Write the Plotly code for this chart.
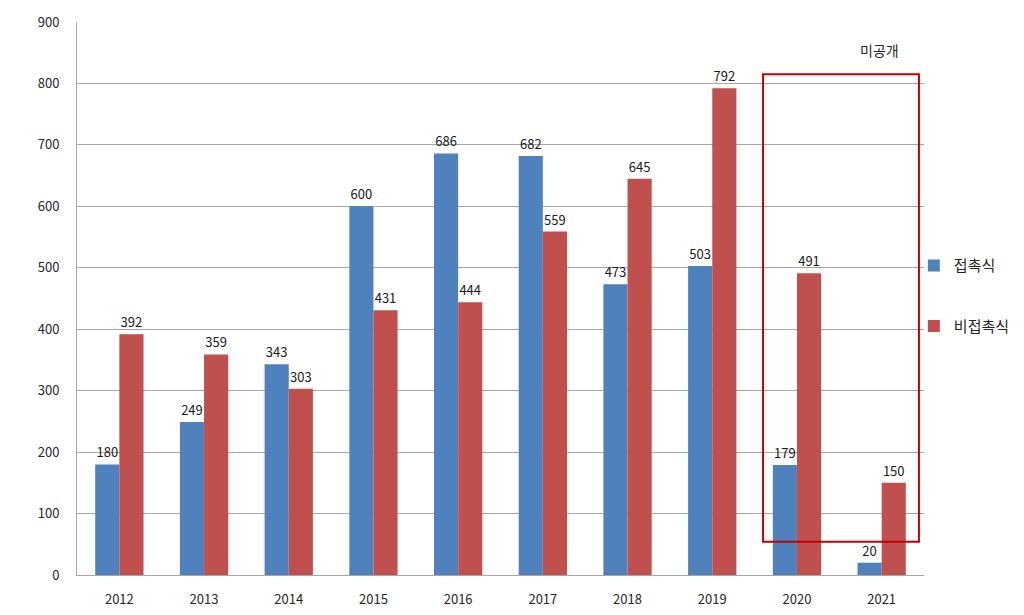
import plotly.graph_objects as go

years = ["2012", "2013", "2014", "2015", "2016", "2017", "2018", "2019", "2020", "2021"]
contact = [180, 249, 343, 600, 686, 682, 473, 503, 179, 20]
noncontact = [392, 359, 303, 431, 444, 559, 645, 792, 491, 150]
series_names = ["접촉식", "비접촉식"]
y_ticks = [0, 100, 200, 300, 400, 500, 600, 700, 800, 900]
box_label = "미공개"

FONT = "Noto Sans CJK KR, Malgun Gothic, sans-serif"
BLUE = "#4F81BD"
RED = "#C0504D"

fig = go.Figure()
for name, vals, col, grp in [(series_names[0], contact, BLUE, "a"), (series_names[1], noncontact, RED, "b")]:
    fig.add_trace(go.Bar(
        x=years, y=vals, name=name, marker=dict(color=col, line=dict(width=0)),
        text=[str(v) for v in vals], textposition="outside", cliponaxis=False,
        textfont=dict(size=13, color="#1a1a1a", family=FONT),
        constraintext="none", legendgroup=grp,
    ))

# highlight box around 2020-2021 (category positions)
fig.add_shape(type="rect", xref="x", yref="y", x0=7.6, x1=9.44, y0=54, y1=815,
              line=dict(color="#C00000", width=2), fillcolor="rgba(0,0,0,0)")
fig.add_annotation(xref="x", yref="y", x=8.98, y=855, text=box_label, showarrow=False,
                   font=dict(size=14, color="#262626", family=FONT))

fig.update_layout(
    width=1024, height=615,
    margin=dict(l=77, r=100, t=22, b=40, autoexpand=False),
    paper_bgcolor="white", plot_bgcolor="white",
    barmode="group", bargap=0.43, bargroupgap=0,
    font=dict(family=FONT, size=13, color="#404040"),
    legend=dict(x=0.988, y=0.505, xanchor="left", yanchor="middle",
                traceorder="grouped", tracegroupgap=38,
                bgcolor="rgba(0,0,0,0)",
                font=dict(size=15, color="#262626", family=FONT),
                itemwidth=30),
    showlegend=True,
)
fig.update_xaxes(type="category", showline=True, linecolor="#A6A6A6", linewidth=1,
                 ticks="", tickfont=dict(size=13, color="#262626"), showgrid=False,
                 ticklabelstandoff=12)
fig.update_yaxes(range=[0, 900], tickvals=y_ticks, showgrid=True, gridcolor="#A6A6A6",
                 gridwidth=1, showline=True, linecolor="#A6A6A6", linewidth=1,
                 zeroline=False, ticks="", ticklabelstandoff=14,
                 tickfont=dict(size=13, color="#262626"))

fig.write_html("out.html")
